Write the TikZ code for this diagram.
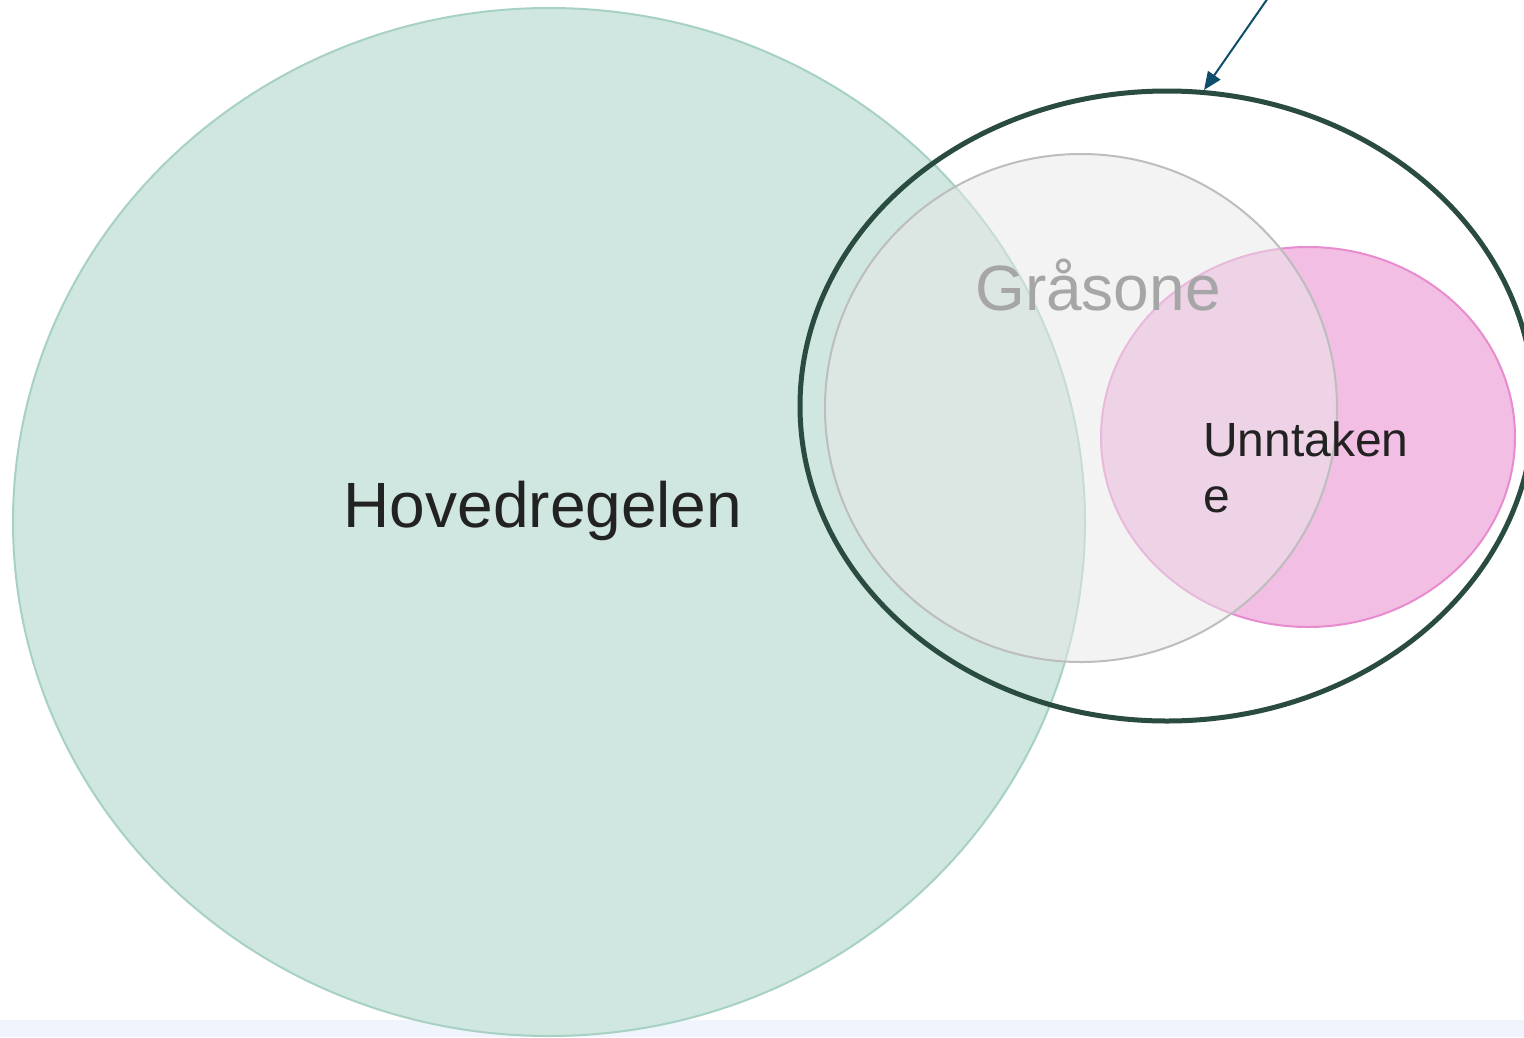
\documentclass[tikz,border=0pt]{standalone}
\usepackage{fontspec}
\setmainfont{Liberation Sans}
\usetikzlibrary{arrows.meta}
\definecolor{mainfill}{HTML}{D0E6E0}
\definecolor{mainline}{HTML}{A6D1C3}
\definecolor{frameline}{HTML}{2A4B3F}
\definecolor{greyfill}{HTML}{E8E8E8}
\definecolor{greyline}{HTML}{BDBDBD}
\definecolor{greytext}{HTML}{A6A6A6}
\definecolor{pinkfill}{HTML}{F3BEE3}
\definecolor{pinkline}{HTML}{E88BCF}
\definecolor{arrowblue}{HTML}{0F4E6A}
\definecolor{stripblue}{HTML}{EFF4FD}
\definecolor{ink}{HTML}{222222}
\tikzset{
  x=1pt, y=-1pt,
  setshape/.style={line width=2pt},
  label/.style={inner sep=0pt, text=ink},
}
\begin{document}
\begin{tikzpicture}
\useasboundingbox (0,0) rectangle (1524,1037);
\clip (0,0) rectangle (1524,1037);
% base strip along the bottom edge
\fill[stripblue] (0,1020) rectangle (1524,1037);
% main rule
\draw[setshape, fill=mainfill, draw=mainline] (549,522) ellipse [x radius=536, y radius=514];
% exceptions
\draw[setshape, fill=pinkfill, draw=pinkline] (1308,437) ellipse [x radius=207, y radius=190];
% grey zone, half transparent
\draw[setshape, fill=greyfill, fill opacity=0.5, draw=greyline] (1081,408) ellipse [x radius=256, y radius=254];
% outer frame
\draw[line width=5pt, draw=frameline] (1167,406) ellipse [x radius=367, y radius=315];
\coordinate (frametop) at (1204,90);
\coordinate (arrowstart) at (1268,-2);
\draw[arrowblue, line width=2pt, -{Triangle[length=18pt,width=15pt]}] (arrowstart) -- (frametop);
% texts
\node[label, anchor=base] (hoved) at (543,527) {\fontsize{64}{72}\selectfont Hovedregelen};
\node[label, anchor=base west, text=greytext] (graa) at (975,310) {\fontsize{64}{72}\selectfont Gråsone};
\node[label, anchor=base west] (unntak1) at (1203,456) {\fontsize{48}{56}\selectfont Unntaken};
\node[label, anchor=base west] (unntak2) at (1203,512) {\fontsize{48}{56}\selectfont e};
\end{tikzpicture}
\end{document}
